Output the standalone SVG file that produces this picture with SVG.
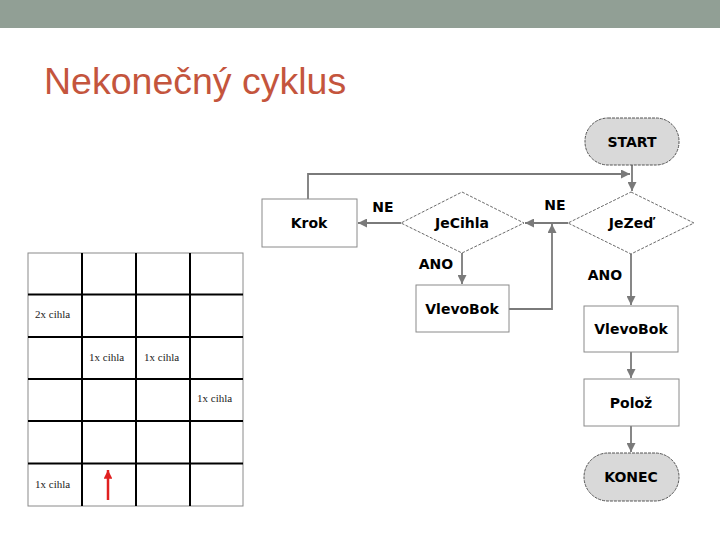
<svg xmlns="http://www.w3.org/2000/svg" width="720" height="540" viewBox="0 0 720 540">
<defs>
<marker id="ah" viewBox="0 0 10 10" refX="10" refY="5" markerWidth="5" markerHeight="5" orient="auto" markerUnits="strokeWidth">
<path d="M0,0 L10,5 L0,10 z" fill="#7a7a7a"/>
</marker>
<marker id="rah" viewBox="0 0 10 10" refX="10" refY="5" markerWidth="3.5" markerHeight="3.5" orient="auto" markerUnits="strokeWidth">
<path d="M0,0 L10,5 L0,10 z" fill="#e02020"/>
</marker>
</defs>
<style>
.box{fill:#ffffff;stroke:#8a8a8a;stroke-width:1}
.term{fill:#d9d9d9;stroke:#555555;stroke-width:1;stroke-dasharray:3,1}
.dia{fill:#ffffff;stroke:#444444;stroke-width:0.8;stroke-dasharray:3,1.5}
.lbl{font-family:"DejaVu Sans",Verdana,sans-serif;font-weight:bold;font-size:14px;fill:#000000;text-anchor:middle}
.con{fill:none;stroke:#7a7a7a;stroke-width:1.8}
.g1{stroke:#000000;stroke-width:2}
.cell{font-family:"Liberation Serif","Times New Roman",serif;font-size:11px;fill:#222222}
.title{font-family:"Liberation Sans",Arial,sans-serif;font-size:37.5px;fill:#c4553d}
</style>
<rect x="0" y="0" width="720" height="28" fill="#919f95"/>
<text class="title" x="44" y="94">Nekonečný cyklus</text>

<g id="grid">
<rect x="28" y="253" width="215" height="253" fill="#ffffff" stroke="#8a8a8a" stroke-width="1"/>
<line class="g1" x1="82" y1="253" x2="82" y2="506"/>
<line class="g1" x1="136" y1="253" x2="136" y2="506"/>
<line class="g1" x1="190" y1="253" x2="190" y2="506"/>
<line class="g1" x1="28" y1="294.5" x2="243" y2="294.5" stroke-width="1.5"/>
<line class="g1" x1="28" y1="337" x2="243" y2="337"/>
<line class="g1" x1="28" y1="379" x2="243" y2="379"/>
<line class="g1" x1="28" y1="421" x2="243" y2="421" stroke-width="1.3"/>
<line class="g1" x1="28" y1="463.5" x2="243" y2="463.5" stroke-width="1.3"/>
<text class="cell" x="35" y="318">2x cihla</text>
<text class="cell" x="89" y="361">1x cihla</text>
<text class="cell" x="144" y="361">1x cihla</text>
<text class="cell" x="197" y="402">1x cihla</text>
<text class="cell" x="35" y="488">1x cihla</text>
<line x1="108" y1="500" x2="108" y2="470" stroke="#e02020" stroke-width="2.5" marker-end="url(#rah)"/>
</g>

<g id="connectors">
<line class="con" x1="632" y1="165" x2="632" y2="191" marker-end="url(#ah)"/>
<polyline class="con" points="308,199 308,174 630,174" marker-end="url(#ah)"/>
<line class="con" x1="568" y1="223" x2="525" y2="223" marker-end="url(#ah)"/>
<line class="con" x1="401" y1="223" x2="358" y2="223" marker-end="url(#ah)"/>
<line class="con" x1="462" y1="253" x2="462" y2="284" marker-end="url(#ah)"/>
<polyline class="con" points="509,309 552,309 552,224" marker-end="url(#ah)"/>
<line class="con" x1="631" y1="254" x2="631" y2="305" marker-end="url(#ah)"/>
<line class="con" x1="631" y1="352" x2="631" y2="378" marker-end="url(#ah)"/>
<line class="con" x1="631" y1="426" x2="631" y2="452" marker-end="url(#ah)"/>
<text class="lbl" x="383" y="212">NE</text>
<text class="lbl" x="555" y="210">NE</text>
<text class="lbl" x="436" y="269">ANO</text>
<text class="lbl" x="605" y="280">ANO</text>
</g>

<g id="start">
<rect class="term" x="585" y="118" width="94" height="47" rx="23" ry="23"/>
<text class="lbl" x="632" y="147">START</text>
</g>
<g id="jezed">
<polygon class="dia" points="631,192 694,223 631,254 568,223"/>
<text class="lbl" x="631" y="228">JeZeď</text>
</g>
<g id="jecihla">
<polygon class="dia" points="462,192 524,223 462,253 401,223"/>
<text class="lbl" x="462" y="228">JeCihla</text>
</g>
<g id="krok">
<rect class="box" x="262" y="199" width="95" height="48"/>
<text class="lbl" x="309" y="228">Krok</text>
</g>
<g id="vlevobok1">
<rect class="box" x="416" y="285" width="93" height="47"/>
<text class="lbl" x="462" y="314">VlevoBok</text>
</g>
<g id="vlevobok2">
<rect class="box" x="584" y="306" width="94" height="46"/>
<text class="lbl" x="631" y="334">VlevoBok</text>
</g>
<g id="poloz">
<rect class="box" x="584" y="379" width="95" height="47"/>
<text class="lbl" x="631" y="408">Polož</text>
</g>
<g id="konec">
<rect class="term" x="584" y="453" width="95" height="48" rx="24" ry="24"/>
<text class="lbl" x="631" y="482">KONEC</text>
</g>
</svg>
